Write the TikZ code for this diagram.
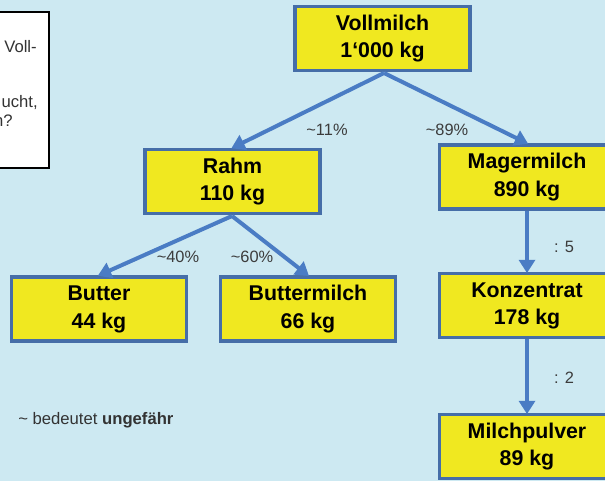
\documentclass[tikz,border=0pt]{standalone}
\usepackage{fontspec}
\setmainfont{Liberation Sans}
\usetikzlibrary{arrows.meta}
\definecolor{bgblue}{RGB}{205,233,242}
\definecolor{boxyellow}{RGB}{240,232,32}
\definecolor{boxborder}{RGB}{70,110,168}
\definecolor{arrowblue}{RGB}{74,124,196}
\definecolor{labelgray}{RGB}{60,60,60}
\newcommand{\twolines}[2]{\raisebox{-3.2pt}{\begin{tabular}{@{}c@{}}#1\\#2\end{tabular}}}
\tikzset{
  qty/.style={draw=boxborder, fill=boxyellow, line width=2.6pt, rectangle,
    minimum width=175*0.75pt, minimum height=64*0.75pt, inner sep=0pt,
    align=center, font=\bfseries\fontsize{16}{20.5}\selectfont, text=black},
  flow/.style={draw=arrowblue, line width=3pt, -{Triangle[width=12pt,length=10pt]}, shorten >=-1pt},
  pct/.style={font=\fontsize{12.3}{14}\selectfont, text=labelgray, inner sep=0pt},
  note/.style={font=\fontsize{12.5}{15}\selectfont, text=black!80, inner sep=0pt}
}
\begin{document}
\begin{tikzpicture}[x=0.75pt,y=-0.75pt]
\fill[bgblue] (0,0) rectangle (605,481);
\useasboundingbox (0,0) rectangle (605,481);
\clip (0,0) rectangle (605,481);
% left question box (cut off)
\draw[fill=white, draw=black, line width=1.3pt] (-5,12) rectangle (49,168);
\node[note, anchor=east] (q1) at (37,47) {Voll-};
\node[note, anchor=east] (q2) at (38,103) {ucht,};
\node[note, anchor=east] (q3) at (13,121) {n?};
% boxes
\node[qty] (voll) at (382.5,38.5) {\twolines{Vollmilch}{1‘000 kg}};
\node[qty] (rahm) at (232.5,181.5) {\twolines{Rahm}{110 kg}};
\node[qty] (mager) at (527,177) {\twolines{Magermilch}{890 kg}};
\node[qty] (butter) at (99,309) {\twolines{Butter}{44 kg}};
\node[qty] (bmilch) at (308,309) {\twolines{Buttermilch}{66 kg}};
\node[qty] (konz) at (527,305.5) {\twolines{Konzentrat}{178 kg}};
\node[qty] (pulver) at (527,446.5) {\twolines{Milchpulver}{89 kg}};
% arrows
\coordinate (vs) at (384,73);
\coordinate (rs) at (232,216);
\draw[flow] (vs) -- (rahm.north);
\draw[flow] (vs) -- (mager.north);
\draw[flow] (rs) -- (butter.north);
\draw[flow] (rs) -- (bmilch.north);
\draw[flow] (mager.south) -- (konz.north);
\draw[flow] (konz.south) -- (pulver.north);
% labels
\node[pct] (l11) at (327,130) {\textasciitilde11\%};
\node[pct] (l89) at (447,130) {\textasciitilde89\%};
\node[pct] (l40) at (178,257) {\textasciitilde40\%};
\node[pct] (l60) at (252,257) {\textasciitilde60\%};
\node[pct] (l5) at (564,247) {: 5};
\node[pct] (l2) at (564,378) {: 2};
\node[note, anchor=west] (legend) at (18,420) {\textasciitilde\ bedeutet \textbf{ungefähr}};
\end{tikzpicture}
\end{document}
